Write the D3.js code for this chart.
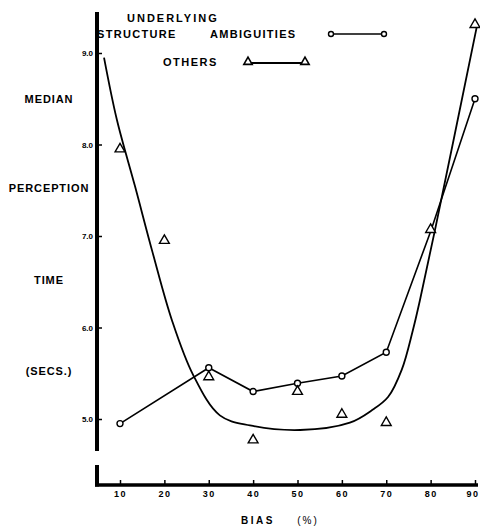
<!DOCTYPE html>
<html>
<head>
<meta charset="utf-8">
<script src="https://cdn.jsdelivr.net/npm/d3@7"></script>
<style>
  html, body { margin: 0; padding: 0; background: #fff; }
  svg { display: block; }
  text { font-family: "Liberation Sans", Arial, sans-serif; fill: #000; font-weight: bold; }
</style>
</head>
<body>
<svg id="chart" width="480" height="527"></svg>
<script>
// ---- data ----
const xTicks = [10, 20, 30, 40, 50, 60, 70, 80, 90];
const yTicks = [5.0, 6.0, 7.0, 8.0, 9.0];

// Underlying structure ambiguities (circles)
const ambigBias = [10, 30, 40, 50, 60, 70, 80, 90];
const ambigTime = [4.95, 5.56, 5.30, 5.39, 5.47, 5.73, 7.05, 8.50];

// Others (triangles)
const othersBias = [10, 20, 30, 40, 50, 60, 70, 80, 90];
const othersTime = [7.95, 6.95, 5.46, 4.77, 5.30, 5.05, 4.96, 7.07, 9.31];

// Fitted curve for "Others"
const curveBias = [6.4, 9.3, 13.4, 17.4, 21.7, 26.5, 32.5, 39.3, 50.6, 61.8, 66.9, 70.4, 73.5, 76.0, 77.6, 81.0, 90.5];
const curveTime = [8.95, 8.27, 7.54, 6.81, 6.08, 5.48, 5.04, 4.93, 4.88, 4.96, 5.10, 5.24, 5.54, 5.97, 6.30, 7.07, 9.31];

const yLabels = ["MEDIAN", "PERCEPTION", "TIME", "(SECS.)"];
const yLabelValues = [8.5, 7.53, 6.52, 5.52];

// ---- layout ----
const svg = d3.select("#chart");
const x = d3.scaleLinear().domain([10, 90]).range([120, 475]);
const y = d3.scaleLinear().domain([5, 9]).range([419, 53]);
const axisX = 97;     // y-axis position
const baseY = 485;    // x-axis position

// Y axis (broken)
svg.append("line").attr("x1", axisX).attr("x2", axisX).attr("y1", 12).attr("y2", 451)
  .attr("stroke", "#000").attr("stroke-width", 4);
svg.append("line").attr("x1", axisX).attr("x2", axisX).attr("y1", 465).attr("y2", baseY + 1.5)
  .attr("stroke", "#000").attr("stroke-width", 4);

const yAxis = svg.append("g").attr("transform", `translate(${axisX},0)`)
  .call(d3.axisLeft(y).tickValues(yTicks).tickSizeInner(-5).tickSizeOuter(0).tickPadding(4)
    .tickFormat(d3.format(".1f")));
yAxis.select(".domain").remove();
yAxis.selectAll(".tick line").attr("stroke", "#000").attr("stroke-width", 1.5);
yAxis.selectAll(".tick text").style("font-size", "8px").style("letter-spacing", "0px")
  .style("font-family", "'Liberation Sans Narrow', 'Liberation Sans', sans-serif");

// X axis
svg.append("line").attr("x1", axisX - 2).attr("x2", 478).attr("y1", baseY).attr("y2", baseY)
  .attr("stroke", "#000").attr("stroke-width", 3.5);
const xAxis = svg.append("g").attr("transform", `translate(0,${baseY})`)
  .call(d3.axisBottom(x).tickValues(xTicks).tickSizeInner(-5).tickSizeOuter(0).tickPadding(6)
    .tickFormat(d3.format("d")));
xAxis.select(".domain").remove();
xAxis.selectAll(".tick line").attr("stroke", "#000").attr("stroke-width", 1.5);
xAxis.selectAll(".tick text").style("font-size", "9px").style("letter-spacing", "1.5px");
// keep the last label inside the frame
xAxis.selectAll(".tick text").filter(d => d === 90).attr("text-anchor", "end").attr("dx", 4);

// Axis titles
svg.append("text").attr("x", 258).attr("y", 524).attr("text-anchor", "middle")
  .style("font-size", "10px").style("letter-spacing", "2.5px").text("BIAS");
svg.append("text").attr("x", 308).attr("y", 524).attr("text-anchor", "middle")
  .style("font-size", "10px").style("letter-spacing", "2px").style("font-weight", "normal").text("(%)");

svg.selectAll(".ylab").data(yLabels).enter().append("text")
  .attr("class", "ylab")
  .attr("x", 49)
  .attr("y", (d, i) => y(yLabelValues[i]) + 4)
  .attr("text-anchor", "middle")
  .style("font-size", "11px").style("letter-spacing", "0.9px")
  .text(d => d);

// Fitted curve
const curveData = curveBias.map((b, i) => [b, curveTime[i]]);
svg.append("path").datum(curveData)
  .attr("d", d3.line().x(d => x(d[0])).y(d => y(d[1])).curve(d3.curveCatmullRom.alpha(0.5)))
  .attr("fill", "none").attr("stroke", "#000").attr("stroke-width", 1.8);

// Ambiguities line
const ambigData = ambigBias.map((b, i) => [b, ambigTime[i]]);
svg.append("path").datum(ambigData)
  .attr("d", d3.line().x(d => x(d[0])).y(d => y(d[1])))
  .attr("fill", "none").attr("stroke", "#000").attr("stroke-width", 1.6);
svg.selectAll(".circ").data(ambigData.filter(d => d[0] !== 80)).enter().append("circle")
  .attr("class", "circ")
  .attr("cx", d => x(d[0])).attr("cy", d => y(d[1])).attr("r", 3)
  .attr("fill", "#fff").attr("stroke", "#000").attr("stroke-width", 1.4);

// Triangles
const tri = d3.symbol().type(d3.symbolTriangle).size(42);
const othersData = othersBias.map((b, i) => [b, othersTime[i]]);
svg.selectAll(".tri").data(othersData).enter().append("path")
  .attr("class", "tri")
  .attr("transform", d => `translate(${x(d[0])},${y(d[1])})`)
  .attr("d", tri)
  .attr("fill", "#fff").attr("stroke", "#000").attr("stroke-width", 1.4);

// Legend
svg.append("text").attr("x", 127).attr("y", 22).style("font-size", "11px").style("letter-spacing", "2px").text("UNDERLYING");
svg.append("text").attr("x", 97).attr("y", 38).style("font-size", "11px").style("letter-spacing", "1.3px").text("STRUCTURE");
svg.append("text").attr("x", 210).attr("y", 38).style("font-size", "11px").style("letter-spacing", "1.3px").text("AMBIGUITIES");
svg.append("text").attr("x", 163).attr("y", 66).style("font-size", "11px").style("letter-spacing", "1.5px").text("OTHERS");

svg.append("line").attr("x1", 331).attr("x2", 384).attr("y1", 34).attr("y2", 34)
  .attr("stroke", "#000").attr("stroke-width", 1.3);
[331, 384].forEach(cx => svg.append("circle").attr("cx", cx).attr("cy", 34).attr("r", 2.5)
  .attr("fill", "#fff").attr("stroke", "#000").attr("stroke-width", 1.4));
svg.append("line").attr("x1", 248).attr("x2", 305).attr("y1", 63).attr("y2", 63)
  .attr("stroke", "#000").attr("stroke-width", 1.8);
[248, 305].forEach(cx => svg.append("path").attr("transform", `translate(${cx},62)`)
  .attr("d", d3.symbol().type(d3.symbolTriangle).size(30))
  .attr("fill", "#fff").attr("stroke", "#000").attr("stroke-width", 1.6));
</script>
</body>
</html>
